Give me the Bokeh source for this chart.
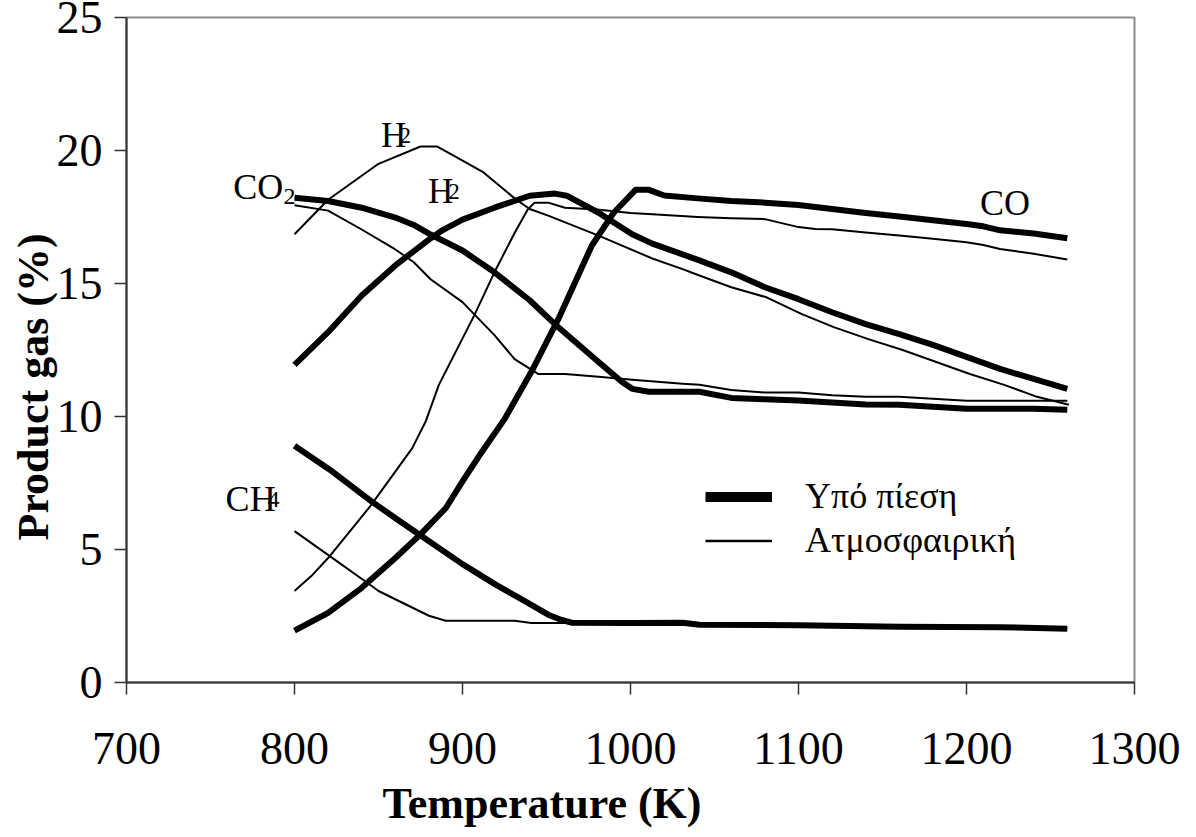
from bokeh.plotting import figure
from bokeh.models import Range1d, FixedTicker, Label, Legend, LegendItem, Title
from bokeh.embed import file_html
from bokeh.resources import INLINE

# ---------------- data ----------------
# Pressurised ("Υπό πίεση") series - thick lines
co_p_T = [800, 820, 840, 860, 875, 890, 900, 911, 925, 941, 957, 977, 990, 1003, 1011, 1020,
          1040, 1060, 1080, 1100, 1120, 1140, 1160, 1180, 1200, 1210, 1220, 1240, 1260]
co_p_v = [1.95, 2.62, 3.56, 4.68, 5.57, 6.55, 7.56, 8.62, 9.9, 11.68, 13.66, 16.43, 17.66, 18.52, 18.52, 18.31,
          18.2, 18.1, 18.04, 17.95, 17.8, 17.65, 17.52, 17.38, 17.24, 17.15, 17.0, 16.88, 16.7]

h2_p_T = [800, 820, 840, 860, 880, 888, 900, 919, 940, 955, 962, 981, 1001, 1013,
          1041, 1060, 1080, 1100, 1120, 1140, 1160, 1180, 1200, 1220, 1240, 1260]
h2_p_v = [11.94, 13.17, 14.55, 15.68, 16.65, 17.0, 17.4, 17.85, 18.3, 18.38, 18.3, 17.66, 16.85, 16.5,
          15.87, 15.42, 14.86, 14.41, 13.92, 13.47, 13.1, 12.69, 12.24, 11.79, 11.41, 11.04]

co2_p_T = [800, 820, 840, 860, 871, 881, 900, 919, 940, 955, 981, 995, 1001, 1011, 1031,
           1041, 1060, 1080, 1100, 1120, 1140, 1160, 1180, 1200, 1220, 1240, 1260]
co2_p_v = [18.22, 18.1, 17.85, 17.48, 17.2, 16.84, 16.24, 15.42, 14.37, 13.47, 12.05, 11.3, 11.04, 10.93, 10.93,
           10.93, 10.7, 10.65, 10.6, 10.53, 10.45, 10.44, 10.37, 10.29, 10.29, 10.29, 10.25]

ch4_p_T = [800, 821, 846, 861, 874, 900, 920, 941, 951, 959, 965, 1001, 1031, 1041, 1100, 1160, 1220, 1260]
ch4_p_v = [8.9, 8.0, 6.8, 6.14, 5.57, 4.45, 3.67, 2.92, 2.55, 2.35, 2.25, 2.24, 2.25, 2.17, 2.15, 2.1, 2.08, 2.02]

# Atmospheric ("Ατμοσφαιρική") series - thin lines
co_a_T = [800, 810, 820, 845, 860, 870, 878, 886, 907, 919, 931, 939, 943, 951, 961, 980, 1000, 1013,
          1040, 1060, 1080, 1100, 1110, 1120, 1140, 1160, 1180, 1200, 1210, 1220, 1240, 1260]
co_a_v = [3.44, 4.0, 4.68, 6.62, 7.93, 8.8, 9.8, 11.2, 13.8, 15.42, 16.9, 17.8, 18.04, 18.04, 17.85, 17.78, 17.65, 17.6,
          17.5, 17.45, 17.42, 17.12, 17.05, 17.04, 16.92, 16.8, 16.68, 16.55, 16.45, 16.3, 16.12, 15.9]

h2_a_T = [800, 820, 850, 875, 885, 895, 912, 931, 940, 951, 981, 1013, 1031,
          1041, 1060, 1081, 1102, 1121, 1142, 1162, 1182, 1202, 1222, 1242, 1261]
h2_a_v = [16.85, 18.15, 19.5, 20.15, 20.15, 19.8, 19.2, 18.2, 17.8, 17.55, 16.8, 15.94, 15.54,
          15.3, 14.86, 14.48, 13.85, 13.36, 12.9, 12.5, 12.05, 11.6, 11.2, 10.74, 10.44]

co2_a_T = [800, 820, 840, 860, 871, 881, 900, 919, 931, 940, 945, 961, 981, 1001, 1031,
           1041, 1060, 1080, 1100, 1120, 1140, 1160, 1180, 1200, 1220, 1240, 1260]
co2_a_v = [17.94, 17.74, 17.03, 16.28, 15.8, 15.16, 14.3, 13.06, 12.16, 11.8, 11.6, 11.6, 11.49, 11.38, 11.23,
           11.19, 11.0, 10.9, 10.9, 10.8, 10.74, 10.74, 10.67, 10.59, 10.59, 10.59, 10.59]

ch4_a_T = [800, 821, 846, 850, 880, 890, 931, 941, 961, 1000, 1040, 1100, 1160, 1220, 1260]
ch4_a_v = [5.69, 4.75, 3.63, 3.44, 2.51, 2.32, 2.32, 2.24, 2.24, 2.22, 2.2, 2.15, 2.1, 2.07, 2.02]

x_ticks = [700, 800, 900, 1000, 1100, 1200, 1300]
y_ticks = [0, 5, 10, 15, 20, 25]

legend_labels = ["Υπό πίεση", "Ατμοσφαιρική"]
x_title = "Temperature (K)"
y_title = "Product gas (%)"

SERIF = "Liberation Serif"

# ---------------- figure ----------------
p = figure(width=1180, height=837, output_backend="svg", toolbar_location=None,
           x_range=Range1d(700, 1300), y_range=Range1d(0, 25),
           min_border_left=126, min_border_top=17, min_border_right=46, min_border_bottom=155)
p.background_fill_color = "white"
p.border_fill_color = "white"
p.outline_line_color = "#8c8c8c"
p.outline_line_width = 2
p.xgrid.visible = False
p.ygrid.visible = False

for ax, ticks in ((p.xaxis[0], x_ticks), (p.yaxis[0], y_ticks)):
    ax.ticker = FixedTicker(ticks=ticks)
    ax.minor_tick_line_color = None
    ax.major_tick_in = 0
    ax.major_tick_out = 12
    ax.major_tick_line_color = "#333333"
    ax.major_tick_line_width = 1.5
    ax.axis_line_color = "#333333"
    ax.axis_line_width = 2
    ax.major_label_text_font = SERIF
    ax.major_label_text_font_size = "46px"
    ax.major_label_text_color = "black"
p.xaxis[0].major_label_standoff = 38
p.yaxis[0].major_label_standoff = 12

THICK = 6
THIN = 2
for T, v in ((co_p_T, co_p_v), (h2_p_T, h2_p_v), (co2_p_T, co2_p_v), (ch4_p_T, ch4_p_v)):
    p.line(T, v, line_color="black", line_width=THICK, line_join="round")
for T, v in ((co_a_T, co_a_v), (h2_a_T, h2_a_v), (co2_a_T, co2_a_v), (ch4_a_T, ch4_a_v)):
    p.line(T, v, line_color="black", line_width=THIN, line_join="round")

# legend samples (renderers with no visible data, used only for the legend key)
nan = float("nan")
leg_p = p.line(x=[nan, nan], y=[nan, nan], line_color="black", line_width=10)
leg_a = p.line(x=[nan, nan], y=[nan, nan], line_color="black", line_width=2.5)
legend = Legend(items=[LegendItem(label=legend_labels[0], renderers=[leg_p]),
                       LegendItem(label=legend_labels[1], renderers=[leg_a])],
                location=(579, 121), glyph_width=67, glyph_height=31, label_height=31,
                label_standoff=33, spacing=2, padding=0, margin=0,
                border_line_color=None, background_fill_alpha=0,
                label_text_font=SERIF, label_text_font_size="36px", label_text_color="black")
p.add_layout(legend, "center")

# curve labels
def lab(text, x, y, size):
    p.add_layout(Label(x=x, y=y, text=text, text_font=SERIF, text_font_size=size,
                       text_color="black", text_baseline="alphabetic", text_align="left"))

lab("CO", 763.5, 18.63, "36px")
lab("2", 793.5, 18.26, "24px")
lab("H", 851.5, 20.58, "35px")
lab("2", 862.5, 20.58, "23px")
lab("H", 879.5, 18.44, "35px")
lab("2", 891.5, 18.44, "23px")
lab("CH", 759.0, 6.88, "36px")
lab("4", 784.0, 6.88, "24px")
lab("CO", 1208.0, 18.03, "36px")

# axis titles
p.add_layout(Title(text=x_title, align="left", offset=256, text_font=SERIF, text_font_size="44px",
                   text_font_style="bold", text_color="black", standoff=20), "below")
p.add_layout(Title(text=y_title, align="left", offset=142, text_font=SERIF, text_font_size="44px",
                   text_font_style="bold", text_color="black", standoff=-9), "left")

open("out.html", "w").write(file_html(p, INLINE))
